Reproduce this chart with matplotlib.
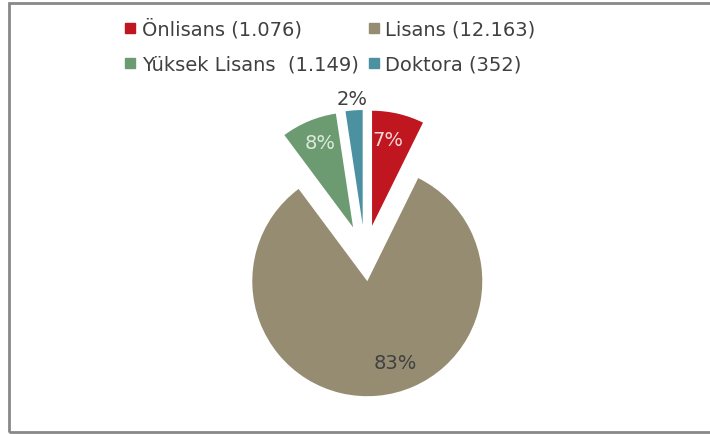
import matplotlib
matplotlib.use("Agg")

import numpy as np
import matplotlib.pyplot as plt
from matplotlib.patches import Rectangle
from matplotlib.lines import Line2D

plt.rcParams["font.family"] = ["DejaVu Sans"]

labels = ["Önlisans (1.076)", "Lisans (12.163)", "Yüksek Lisans  (1.149)", "Doktora (352)"]
counts = [1076, 12163, 1149, 352]
colors = ["#C0161F", "#968C72", "#6C9B72", "#4B91A2"]
pct_colors = ["#F6D6D6", "#404040", "#DCEADC", "#404040"]
explode = [0.27, 0.22, 0.27, 0.27]

W, H = 710, 435
cx, cy, r = 365, 257, 115  # pie centre and radius in pixels

fig = plt.figure(figsize=(W/100, H/100), dpi=100)
ax = fig.add_axes([0, 0, 1, 1])

wedges, texts, autotexts = ax.pie(
    counts, colors=colors, explode=explode, startangle=90, counterclock=False,
    autopct="%.0f%%", pctdistance=0.78,
    textprops={"fontsize": 14},
)
for t, c in zip(autotexts, pct_colors):
    t.set_color(c)

# small tweaks of label placement (polar from pie centre, in radii)
def place(t, ang, dist):
    a = np.deg2rad(ang)
    t.set_position((dist*np.cos(a), dist*np.sin(a)))

place(autotexts[0], 78.9, 1.03)
place(autotexts[2], 111.5, 1.06)
place(autotexts[3], 94.7, 1.37)
place(autotexts[1], -74, 0.96)

ax.set_xlim(-cx/r, (W - cx)/r)
ax.set_ylim(-(H - cy)/r, cy/r)
ax.set_aspect("equal")
ax.axis("off")

handles = [Line2D([], [], marker="s", ls="", markersize=7, color=c) for c in colors]
order = [0, 2, 1, 3]
fig.legend([handles[i] for i in order], [labels[i] for i in order],
           ncol=2, loc="upper left", bbox_to_anchor=(106/W, 1 - 2/H),
           frameon=False, fontsize=14, handlelength=0.7, handletextpad=0.23,
           labelspacing=0.82, columnspacing=0.46, labelcolor="#404040")

# outer frame
fig.patches.append(Rectangle((9/W, 2/H), 1.0, 1 - 6/H, transform=fig.transFigure,
                             fill=False, edgecolor="#888888", linewidth=2))

fig.savefig("out.png", dpi=100)
